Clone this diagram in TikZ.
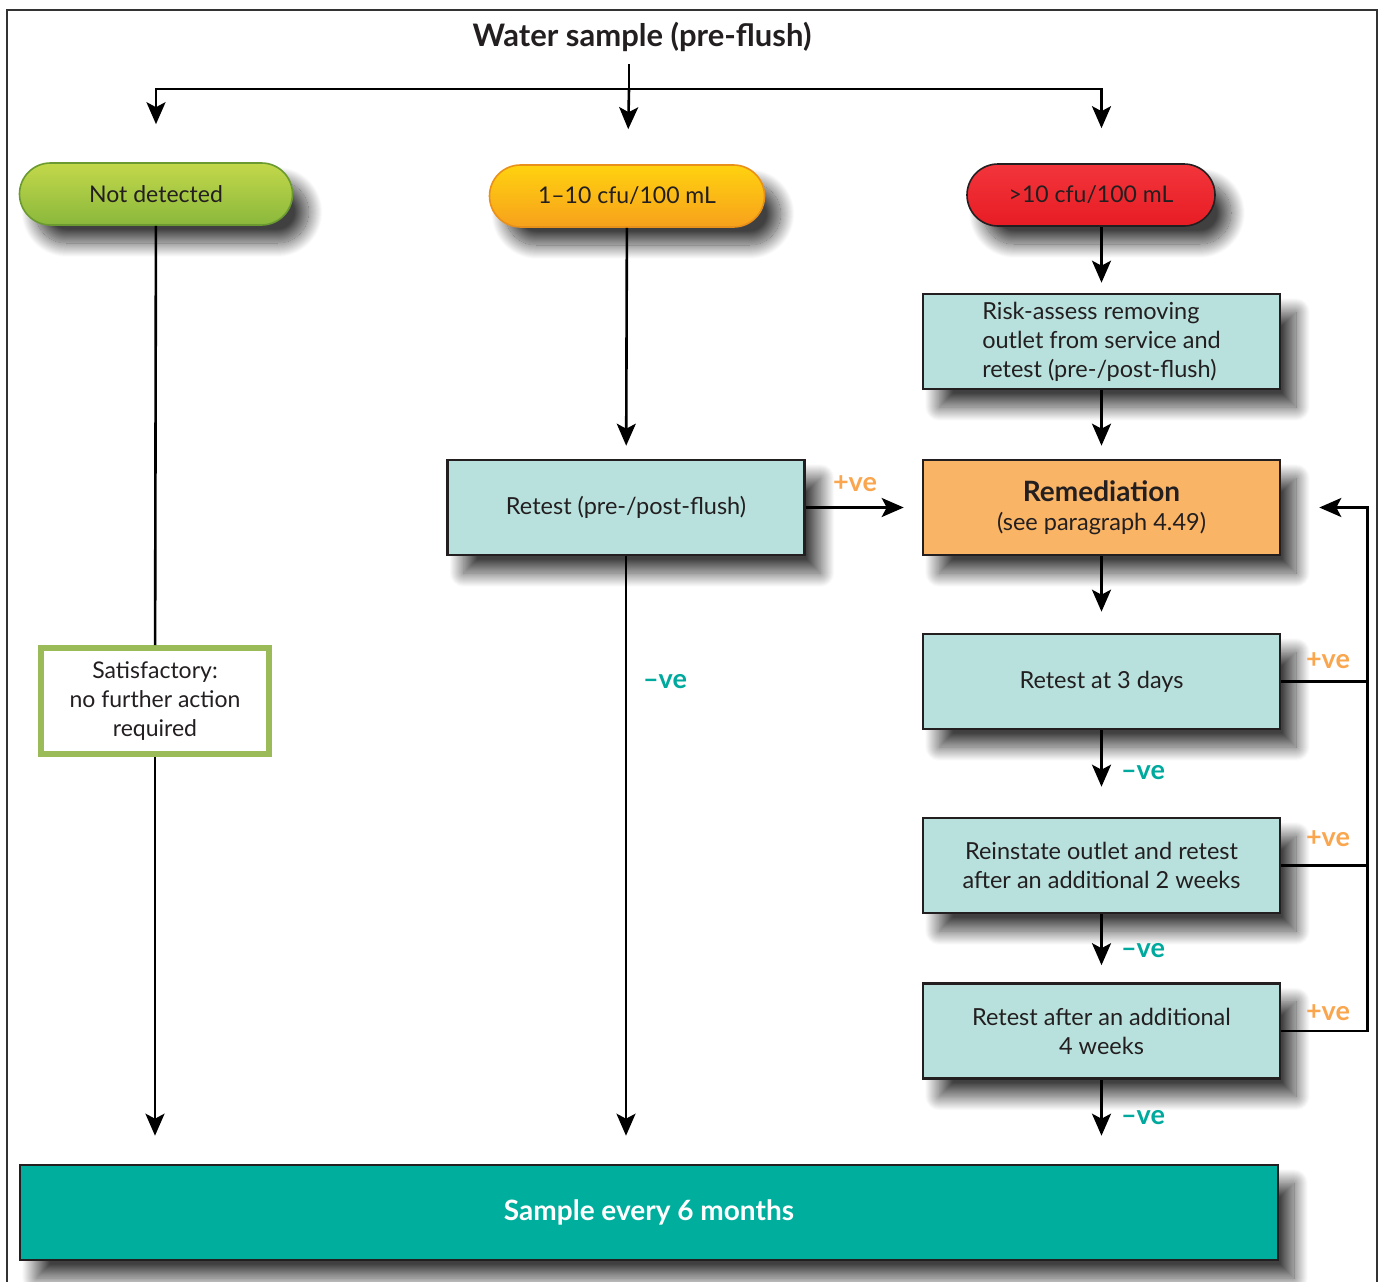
\documentclass[tikz,border=0pt]{standalone}
\usepackage{fontspec}
\setmainfont{Lato}
\usetikzlibrary{arrows.meta,shapes.misc,shadows.blur}

\definecolor{ink}{HTML}{231F20}
\definecolor{framegray}{HTML}{333333}
\definecolor{aqua}{HTML}{B8E1DD}
\definecolor{remorange}{HTML}{F9B466}
\definecolor{seateal}{HTML}{00AE9E}
\definecolor{okgreen}{HTML}{9BBB59}
\definecolor{greentop}{HTML}{C3D84A}
\definecolor{greenbot}{HTML}{8AB83C}
\definecolor{greenedge}{HTML}{6A9A30}
\definecolor{yellowtop}{HTML}{FFD20F}
\definecolor{yellowbot}{HTML}{F7A11C}
\definecolor{yellowedge}{HTML}{E8901A}
\definecolor{redtop}{HTML}{F2353B}
\definecolor{redbot}{HTML}{E81C24}
\definecolor{plusorange}{HTML}{F9A64F}
\definecolor{minusteal}{HTML}{00A99D}

\begin{document}
\begin{tikzpicture}[x=1pt, y=-1pt, ->, >={Stealth[length=22pt,width=19pt,inset=5pt]}, line width=2.6pt,
  drop/.style={blur shadow={shadow xshift=16pt, shadow yshift=-18pt, shadow blur radius=14pt, shadow blur steps=28, shadow opacity=75}},
  pill/.style={rounded rectangle, draw, line width=1.6pt, minimum height=62pt, inner sep=0pt, text=ink, font=\fontsize{23}{27}\selectfont, drop},
  nonepill/.style={pill, draw=greenedge, top color=greentop, bottom color=greenbot, minimum width=273pt},
  lowpill/.style={pill, draw=yellowedge, top color=yellowtop, bottom color=yellowbot, minimum width=275pt},
  highpill/.style={pill, draw=ink, top color=redtop, bottom color=redbot, minimum width=248pt},
  actbox/.style={rectangle, draw=ink, line width=2.6pt, fill=aqua, minimum width=357pt, minimum height=95pt, inner sep=0pt, align=center, text=ink, font=\fontsize{23.5}{29}\selectfont, drop},
  okbox/.style={rectangle, draw=okgreen, line width=6pt, fill=white, minimum width=228pt, minimum height=106pt, inner sep=0pt, align=center, text=ink, font=\fontsize{23}{29}\selectfont},
  posve/.style={text=plusorange, font=\bfseries\fontsize{27}{30}\selectfont},
  negve/.style={text=minusteal, font=\bfseries\fontsize{27}{30}\selectfont}]

\useasboundingbox (0,0) rectangle (1384,1282);
\draw[-, line width=2.4pt, draw=framegray] (7,10) rectangle (1377,1320);

\node[text=ink, font=\bfseries\fontsize{31}{36}\selectfont] (title) at (642,37) {Water sample (pre-flush)};
\coordinate (tstem) at (629,64);
\coordinate (split) at (629,89);

\node[nonepill] (none) at (156,194) {Not detected};
\node[lowpill] (low) at (627,196) {1--10 cfu/100 mL};
\node[highpill] (high) at (1091,195) {>10 cfu/100 mL};

\node[actbox, align=left] (risk) at (1101.5,341.5) {Risk-assess removing\\outlet from service and\\retest (pre-/post-flush)};
\node[actbox] (retest) at (626,507.5) {Retest (pre-/post-flush)};
\node[actbox, fill=remorange] (remed) at (1101.5,507.5) {{\bfseries\fontsize{28}{30}\selectfont Remediation}\\(see paragraph 4.49)};
\node[actbox] (three) at (1101.5,681.5) {Retest at 3 days};
\node[actbox] (two) at (1101.5,865.5) {Reinstate outlet and retest\\after an additional 2 weeks};
\node[actbox] (four) at (1101.5,1031) {Retest after an additional\\4 weeks};

\node[okbox] (ok) at (155,701) {Satisfactory:\\no further action\\required};
\node[rectangle, draw=ink, line width=2.6pt, fill=seateal, minimum width=1258pt, minimum height=95pt, text=white, font=\bfseries\fontsize{28}{32}\selectfont, drop] (sample) at (649,1212.5) {Sample every 6 months};

% split of the sample
\draw[-] (tstem) -- (split);
\draw[shorten >=38pt] (split) -| (none);
\draw[shorten >=35pt] (split) -- (low);
\draw[shorten >=35pt] (split) -| (risk.north |- high.north);

% right-hand chain
\draw[shorten >=10pt] (risk.north |- high.south) -- (risk);
\foreach \from/\to/\gap in {risk/remed/13, remed/three/21, three/two/30, two/four/17}
    \draw[shorten >=\gap pt] (\from) -- (\to);
\draw[shorten >=28pt] (four.south) -- (four.south |- sample.north);

% left and middle columns
\draw[-] (none) -- (ok);
\draw[shorten >=28pt] (ok.south) -- (ok.south |- sample.north);
\draw[shorten >=13pt] (low) -- (retest);
\draw[shorten >=28pt] (retest.south) -- (retest.south |- sample.north);
\draw[shorten >=18pt] (retest) -- (remed);

% positive results go back to remediation
\draw[-] (three.east) -- ++(86,0);
\draw[-] (two.east) -- ++(86,0);
\draw[shorten >=38pt] (four.east) -- ++(86,0) |- (remed.east);

\node[posve] (p1) at (855,484) {+ve};
\node[posve] (p2) at (1328,661) {+ve};
\node[posve] (p3) at (1328,839) {+ve};
\node[posve] (p4) at (1328,1013) {+ve};
\node[negve] (n1) at (665,682) {--ve};
\node[negve] (n2) at (1143,773) {--ve};
\node[negve] (n3) at (1143,951) {--ve};
\node[negve] (n4) at (1143,1118) {--ve};
\end{tikzpicture}
\end{document}
